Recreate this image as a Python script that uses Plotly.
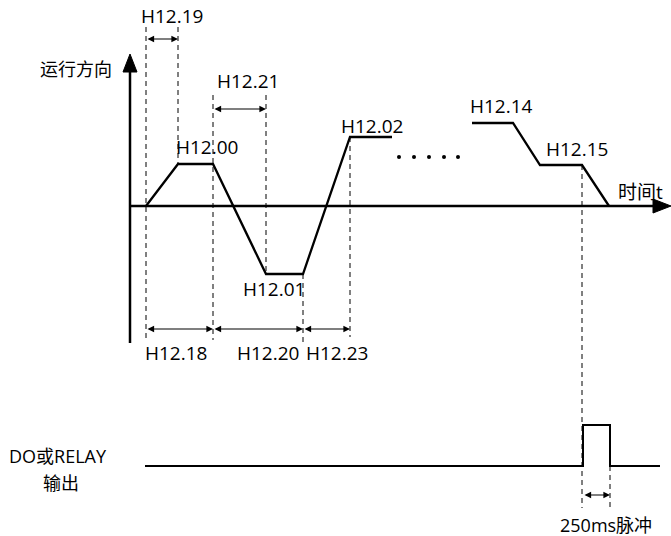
import plotly.graph_objects as go

# ---- data (diagram coordinates: x = time position, y = level, pixel-like units) ----
wave1_x = [146, 178, 213, 266, 303, 350, 392]
wave1_y = [206, 164, 164, 274, 274, 137, 137]
wave2_x = [472, 513, 540, 582, 609]
wave2_y = [123, 123, 165, 165, 206]
dots_x = [399, 414, 429, 444, 458]
dots_y = [157, 157, 157, 157, 157]
pulse_x = [145, 583, 583, 610, 610, 660]
pulse_y = [466, 466, 425, 425, 466, 466]

# dashed guide lines: x, y_top, y_bottom
guide_x = [146, 178, 213, 266, 303, 350, 582, 610]
guide_top = [27, 27, 95, 95, 274, 137, 165, 466]
guide_bot = [340, 164, 340, 274, 343, 337, 508, 508]

# dimension arrows: x0, x1, y
dim_x0 = [146, 213, 146, 213, 303, 583]
dim_x1 = [178, 266, 213, 303, 350, 610]
dim_y = [39, 109, 329, 329, 329, 495]

# labels
label_text = ["H12.19", "H12.21", "H12.00", "H12.01", "H12.18", "H12.20", "H12.23",
              "H12.02", "H12.14", "H12.15", "时间t", "运行方向", "DO或RELAY", "输出", "250ms脉冲"]
label_x = [172, 248, 207, 274, 176, 268, 337, 372, 501, 577, 640, 76, 58, 61, 606]
label_y = [16, 81, 147, 289, 353, 353, 353, 126, 106, 149, 192, 69, 456, 483, 525]
label_size = [19, 19, 19, 19, 19, 19, 19, 19, 19, 19, 19, 18, 18, 18, 18]

FONT = "Open Sans, Noto Sans CJK SC, sans-serif"

fig = go.Figure()

# dashed guides
for gx, gt, gb in zip(guide_x, guide_top, guide_bot):
    fig.add_trace(go.Scatter(x=[gx, gx], y=[gt, gb], mode="lines",
                             line=dict(color="black", width=1, dash="5px,4px"),
                             hoverinfo="skip", showlegend=False))

# axes
fig.add_trace(go.Scatter(x=[130, 130], y=[343, 68], mode="lines",
                         line=dict(color="black", width=2.5), showlegend=False))
fig.add_trace(go.Scatter(x=[130, 657], y=[206, 206], mode="lines",
                         line=dict(color="black", width=2.5), showlegend=False))
# arrow heads
fig.add_trace(go.Scatter(x=[123, 130, 137, 123], y=[72, 54, 72, 72], mode="lines",
                         fill="toself", fillcolor="black", line=dict(color="black", width=1),
                         showlegend=False))
fig.add_trace(go.Scatter(x=[653, 671, 653, 653], y=[199, 206, 213, 199], mode="lines",
                         fill="toself", fillcolor="black", line=dict(color="black", width=1),
                         showlegend=False))

# waveforms
fig.add_trace(go.Scatter(x=wave1_x, y=wave1_y, mode="lines",
                         line=dict(color="black", width=2.3), showlegend=False))
fig.add_trace(go.Scatter(x=wave2_x, y=wave2_y, mode="lines",
                         line=dict(color="black", width=2.3), showlegend=False))
fig.add_trace(go.Scatter(x=dots_x, y=dots_y, mode="markers",
                         marker=dict(color="black", size=4), showlegend=False))
fig.add_trace(go.Scatter(x=pulse_x, y=pulse_y, mode="lines",
                         line=dict(color="black", width=2), showlegend=False))

# dimension arrows
for x0, x1, yy in zip(dim_x0, dim_x1, dim_y):
    fig.add_annotation(x=x1, y=yy, ax=x0, ay=yy, xref="x", yref="y", axref="x", ayref="y",
                       showarrow=True, arrowhead=2, arrowside="end+start", arrowsize=1.1,
                       arrowwidth=1.2, arrowcolor="black", text="", standoff=0, startstandoff=0)

# labels
for t, lx, ly, fs in zip(label_text, label_x, label_y, label_size):
    fig.add_annotation(x=lx, y=ly, xref="x", yref="y", text=t, showarrow=False,
                       font=dict(family=FONT, size=fs, color="black"),
                       xanchor="center", yanchor="middle", borderpad=0)

fig.update_layout(
    width=671, height=536,
    margin=dict(l=0, r=0, t=0, b=0),
    paper_bgcolor="white", plot_bgcolor="white",
    xaxis=dict(range=[0, 671], visible=False, fixedrange=True),
    yaxis=dict(range=[536, 0], visible=False, fixedrange=True),
    showlegend=False,
)

fig.write_html("out.html", config={"displayModeBar": False},
               post_script="document.body.style.margin='0';document.body.style.overflow='hidden';")
